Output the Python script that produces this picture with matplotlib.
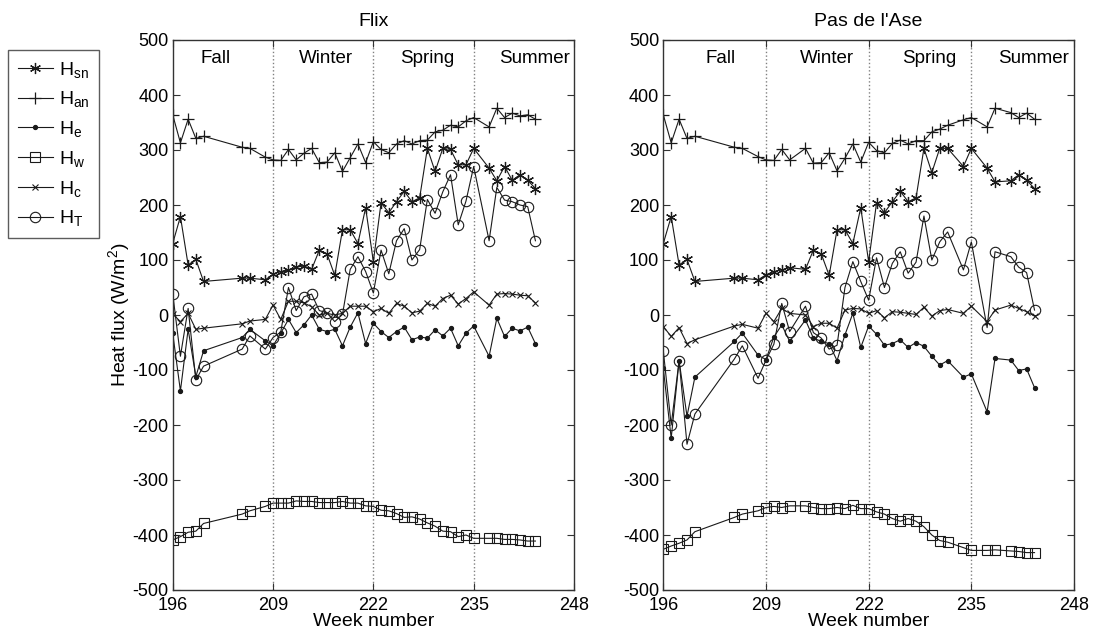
import matplotlib
matplotlib.use('Agg')

import matplotlib.pyplot as plt

plt.rcParams['font.family'] = ['Liberation Sans', 'DejaVu Sans']
plt.rcParams['mathtext.fontset'] = 'custom'
plt.rcParams['mathtext.rm'] = 'Liberation Sans'
plt.rcParams['mathtext.default'] = 'rm'
plt.rcParams['axes.unicode_minus'] = False

# week numbers with a measurement at each station
weeks_flix = [196, 197, 198, 199, 200, 205, 206, 208,
              209, 210, 211, 212, 213, 214, 215, 216, 217, 218, 219, 220, 221, 222,
              223, 224, 225, 226, 227, 228, 229, 230, 231, 232, 233, 234, 235,
              237, 238, 239, 240, 241, 242, 243]
weeks_ase = [196, 197, 198, 199, 200, 205, 206, 208,
             209, 210, 211, 212, 214, 215, 216, 217, 218, 219, 220, 221, 222,
             223, 224, 225, 226, 227, 228, 229, 230, 231, 232, 234, 235,
             237, 238, 240, 241, 242, 243]

# Flix heat budget terms (W/m2)
flix_hsn = [130, 179, 91, 101, 61, 67, 67, 64,
            74, 79, 82, 87, 89, 83, 118, 111, 72, 155, 155, 130, 195, 97,
            204, 186, 206, 225, 206, 213, 303, 261, 303, 301, 273, 273, 303,
            267, 244, 270, 245, 255, 245, 230]
flix_han = [364, 313, 356, 321, 325, 305, 303, 287,
            282, 281, 301, 282, 294, 303, 277, 278, 295, 261, 286, 311, 277, 315,
            301, 295, 311, 317, 311, 317, 318, 333, 336, 345, 342, 353, 359,
            342, 376, 359, 367, 362, 364, 356]
flix_he = [-33, -138, -26, -112, -65, -41, -26, -47,
           -56, -33, -8, -32, -18, 0, -26, -30, -26, -56, -22, 4, -52, -15,
           -30, -41, -30, -22, -45, -40, -42, -27, -38, -24, -56, -33, -20,
           -75, -6, -39, -24, -29, -22, -52]
flix_hw = [-409, -403, -395, -393, -379, -362, -356, -348,
           -342, -342, -342, -338, -339, -339, -341, -341, -341, -339, -342, -342, -347, -348,
           -355, -356, -361, -368, -367, -371, -378, -384, -393, -394, -403, -400, -406,
           -406, -406, -408, -408, -409, -411, -411]
flix_hc = [2, -12, 3, -26, -24, -16, -11, -8,
           18, -8, 25, 25, 22, 15, 0, 3, 0, 3, 16, 16, 16, 6,
           12, 3, 21, 16, 4, 7, 21, 16, 30, 36, 20, 30, 42,
           18, 38, 39, 38, 36, 35, 22]
flix_ht = [39, -75, 12, -118, -93, -62, -38, -62,
           -41, -31, 50, 8, 33, 38, 8, 4, -12, 1, 83, 106, 79, 40,
           118, 75, 135, 157, 100, 119, 210, 185, 224, 255, 164, 207, 270,
           135, 232, 209, 206, 200, 197, 135]

# Pas de l'Ase heat budget terms (W/m2)
ase_hsn = [130, 179, 91, 101, 61, 67, 67, 64,
           73, 79, 82, 86, 83, 118, 111, 72, 155, 155, 130, 195, 97,
           204, 186, 206, 225, 206, 213, 303, 259, 303, 303, 270, 303,
           267, 242, 244, 255, 245, 230]
ase_han = [364, 313, 356, 321, 325, 305, 303, 288,
           282, 281, 301, 282, 303, 276, 277, 295, 262, 285, 311, 278, 314,
           299, 295, 312, 318, 311, 317, 317, 333, 338, 345, 355, 359,
           342, 376, 368, 359, 367, 356]
ase_he = [-97, -224, -83, -184, -113, -48, -33, -73,
          -81, -40, -18, -48, -9, -42, -48, -52, -83, -36, 3, -59, -20,
          -35, -55, -52, -45, -59, -50, -57, -75, -91, -83, -113, -107,
          -176, -79, -82, -101, -98, -132]
ase_hw = [-426, -420, -415, -409, -394, -368, -362, -356,
          -350, -348, -350, -347, -347, -350, -352, -352, -350, -352, -346, -352, -352,
          -358, -362, -370, -375, -370, -375, -385, -400, -410, -413, -423, -428,
          -428, -427, -429, -430, -432, -432]
ase_hc = [-21, -39, -23, -52, -45, -20, -17, -24,
          3, -12, 12, 3, 0, -21, -15, -15, -24, 9, 12, 11, 3,
          8, -5, 6, 5, 3, 1, 14, -2, 8, 10, 3, 16,
          -12, 9, 18, 12, 6, -2]
ase_ht = [-65, -200, -83, -235, -180, -80, -56, -115,
          -82, -53, 21, -30, 16, -32, -42, -62, -55, 50, 97, 61, 27,
          104, 50, 94, 115, 76, 96, 180, 100, 133, 151, 82, 133,
          -23, 115, 106, 87, 77, 9]

labels = [r'H$_{sn}$', r'H$_{an}$', r'H$_{e}$', r'H$_{w}$', r'H$_{c}$', r'H$_{T}$']
seasons = ['Fall', 'Winter', 'Spring', 'Summer']
season_edges = [209, 222, 235]
season_x_flix = [199.6, 212.3, 225.5, 238.3]
season_x_ase = [201.3, 213.3, 226.2, 238.4]

ink = '#1a1a1a'
styles = [
    dict(marker=(6, 2, 0), ms=8, mec=ink, mew=0.9),
    dict(marker='+', ms=8, mec=ink, mew=0.9),
    dict(marker='o', ms=2.8, mfc=ink, mec=ink),
    dict(marker='s', ms=7, mfc='none', mec=ink, mew=0.8),
    dict(marker='x', ms=4.5, mec=ink, mew=0.8),
    dict(marker='o', ms=7.5, mfc='none', mec=ink, mew=0.8),
]


def draw_panel(ax, weeks, series, title, season_x):
    lines = []
    for data, st in zip(series, styles):
        l, = ax.plot(weeks, data, color=ink, lw=0.8, **st)
        lines.append(l)
    for e in season_edges:
        ax.axvline(e, color='#808080', ls=':', lw=1.0, zorder=0)
    for name, sx in zip(seasons, season_x):
        ax.text(sx, 459, name, fontsize=13.5, va='baseline', ha='left')
    ax.set_xlim(196, 248)
    ax.set_ylim(-500, 500)
    ax.set_xticks([196, 209, 222, 235, 248])
    ax.set_yticks(range(-500, 501, 100))
    ax.tick_params(direction='in', top=True, right=True, length=5,
                   labelsize=13, color='#333333', pad=3)
    ax.tick_params(axis='x', pad=5)
    for s in ax.spines.values():
        s.set_color('#333333')
        s.set_linewidth(1.0)
    ax.set_xlabel('Week number', fontsize=14, labelpad=-1)
    ax.set_title(title, fontsize=14, pad=10)
    return lines


fig = plt.figure(figsize=(10.94, 6.35), dpi=100)
ax1 = fig.add_axes([172.7 / 1094, 45 / 635, 401.3 / 1094, 550 / 635])
ax2 = fig.add_axes([663.3 / 1094, 45 / 635, 410.7 / 1094, 550 / 635])

handles = draw_panel(ax1, weeks_flix,
                     [flix_hsn, flix_han, flix_he, flix_hw, flix_hc, flix_ht],
                     'Flix', season_x_flix)
draw_panel(ax2, weeks_ase,
           [ase_hsn, ase_han, ase_he, ase_hw, ase_hc, ase_ht],
           "Pas de l'Ase", season_x_ase)

ax1.set_ylabel(r'Heat flux (W/m$^{2}$)', fontsize=14, labelpad=0)

leg = fig.legend(handles, labels, loc='upper left',
                 bbox_to_anchor=(8 / 1094, 1 - 50 / 635), borderaxespad=0,
                 fontsize=14, frameon=True, fancybox=False, handlelength=1.8,
                 handletextpad=0.3, labelspacing=0.5, borderpad=0.5)
leg.get_frame().set_edgecolor('#333333')
leg.get_frame().set_linewidth(1.0)

fig.savefig('out.png', dpi=100)
